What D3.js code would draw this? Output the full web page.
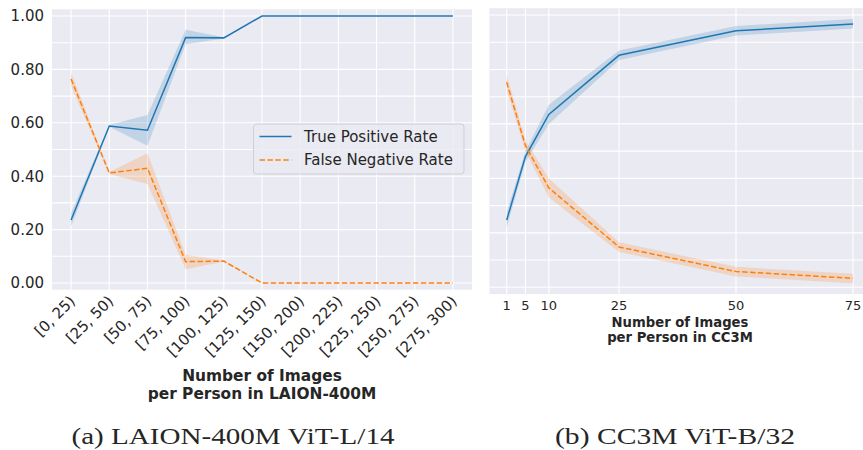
<!DOCTYPE html>
<html>
<head>
<meta charset="utf-8">
<script src="https://cdn.jsdelivr.net/npm/d3@7"></script>
<style>
  body { margin: 0; background: #fff; }
  text { fill: #262626; font-family: "DejaVu Sans", sans-serif; }
</style>
</head>
<body>
<svg id="chart" width="863" height="450"></svg>
<script>
// ---- data ----
const laionBins = ["[0, 25)", "[25, 50)", "[50, 75)", "[75, 100)", "[100, 125)", "[125, 150)",
                   "[150, 200)", "[200, 225)", "[225, 250)", "[250, 275)", "[275, 300)"];
const laionTPR     = [0.236, 0.588, 0.572, 0.919, 0.918, 1, 1, 1, 1, 1, 1];
const laionTPRLow  = [0.212, 0.585, 0.514, 0.894, 0.916, 1, 1, 1, 1, 1, 1];
const laionTPRHigh = [0.262, 0.592, 0.629, 0.948, 0.920, 1, 1, 1, 1, 1, 1];
const laionFNR     = [0.764, 0.412, 0.430, 0.080, 0.082, 0, 0, 0, 0, 0, 0];
const laionFNRLow  = [0.738, 0.408, 0.371, 0.052, 0.080, 0, 0, 0, 0, 0, 0];
const laionFNRHigh = [0.788, 0.416, 0.486, 0.106, 0.084, 0, 0, 0, 0, 0, 0];

const cc3mCounts   = [1, 5, 10, 25, 50, 75];
const cc3mTPR      = [0.247, 0.480, 0.635, 0.852, 0.942, 0.967];
const cc3mTPRLow   = [0.220, 0.460, 0.600, 0.835, 0.925, 0.950];
const cc3mTPRHigh  = [0.275, 0.500, 0.670, 0.870, 0.960, 0.985];
const cc3mFNR      = [0.753, 0.520, 0.365, 0.148, 0.058, 0.033];
const cc3mFNRLow   = [0.725, 0.500, 0.330, 0.130, 0.040, 0.015];
const cc3mFNRHigh  = [0.780, 0.540, 0.400, 0.165, 0.075, 0.050];

const yTicks = [0, 0.2, 0.4, 0.6, 0.8, 1.0];
const yGrid = d3.range(0, 1.01, 0.1);
const seriesNames = ["True Positive Rate", "False Negative Rate"];

const blue = "#1f77b4", orange = "#ff7f0e", bg = "#eaeaf2";

const svg = d3.select("#chart");

function drawPanel(opts) {
  const g = svg.append("g");
  const x = opts.x, y = opts.y;
  const [x0, x1] = x.range(), [yb, yt] = y.range();
  const clipId = "clip" + opts.id;
  svg.append("clipPath").attr("id", clipId)
    .append("rect").attr("x", x0).attr("y", yt).attr("width", x1 - x0).attr("height", yb - yt);

  g.append("rect").attr("x", x0).attr("y", yt).attr("width", x1 - x0).attr("height", yb - yt)
    .attr("fill", bg);

  // grid
  g.selectAll(".hg").data(yGrid).enter().append("line")
    .attr("x1", x0).attr("x2", x1)
    .attr("y1", d => y(d)).attr("y2", d => y(d))
    .attr("stroke", "#fff").attr("stroke-width", 1.1);
  g.selectAll(".vg").data(opts.xs).enter().append("line")
    .attr("x1", d => x(d)).attr("x2", d => x(d))
    .attr("y1", yt).attr("y2", yb)
    .attr("stroke", "#fff").attr("stroke-width", 1.1);

  const plot = g.append("g").attr("clip-path", `url(#${clipId})`);
  const series = [
    {v: opts.tpr, lo: opts.tprLo, hi: opts.tprHi, c: blue, dash: null},
    {v: opts.fnr, lo: opts.fnrLo, hi: opts.fnrHi, c: orange, dash: "5.5,2.4"}
  ];
  series.forEach(s => {
    const area = d3.area().x((d, i) => x(opts.xs[i])).y0((d, i) => y(s.lo[i])).y1((d, i) => y(s.hi[i]));
    plot.append("path").datum(s.v).attr("d", area).attr("fill", s.c).attr("fill-opacity", 0.2);
  });
  series.forEach(s => {
    const line = d3.line().x((d, i) => x(opts.xs[i])).y(d => y(d));
    plot.append("path").datum(s.v).attr("d", line).attr("fill", "none")
      .attr("stroke", s.c).attr("stroke-width", 1.5).attr("stroke-dasharray", s.dash);
  });
  return g;
}

// ---- left panel: LAION-400M ----
const xL = d3.scaleLinear().domain([-0.5, 10.5]).range([52, 472]);
const yL = d3.scaleLinear().domain([-0.025, 1.025]).range([289.7, 9.3]);
const gL = drawPanel({id: "L", x: xL, y: yL, xs: d3.range(laionBins.length),
  tpr: laionTPR, tprLo: laionTPRLow, tprHi: laionTPRHigh,
  fnr: laionFNR, fnrLo: laionFNRLow, fnrHi: laionFNRHigh});

gL.selectAll(".yt").data(yTicks).enter().append("text")
  .attr("x", 44).attr("y", d => yL(d)).attr("dy", "0.36em")
  .attr("text-anchor", "end").attr("font-size", 15)
  .text(d => d.toFixed(2));

gL.selectAll(".xt").data(laionBins).enter().append("text")
  .attr("transform", (d, i) => `translate(${xL(i) + 5},${302}) rotate(-45)`)
  .attr("text-anchor", "end").attr("font-size", 15)
  .text(d => d);

gL.append("text").attr("x", 262).attr("y", 381).attr("text-anchor", "middle")
  .attr("font-size", 15.4).attr("font-weight", "bold").text("Number of Images");
gL.append("text").attr("x", 262).attr("y", 399).attr("text-anchor", "middle")
  .attr("font-size", 15.4).attr("font-weight", "bold").text("per Person in LAION-400M");

// legend
const leg = gL.append("g");
leg.append("rect").attr("x", 253.5).attr("y", 124).attr("width", 210.5).attr("height", 50)
  .attr("rx", 3).attr("fill", bg).attr("fill-opacity", 0.8).attr("stroke", "#cfcfd6");
seriesNames.forEach((name, i) => {
  const ly = 136.5 + i * 23.5;
  leg.append("line").attr("x1", 259.5).attr("x2", 291.5).attr("y1", ly).attr("y2", ly)
    .attr("stroke", i ? orange : blue).attr("stroke-width", 1.5)
    .attr("stroke-dasharray", i ? "5.5,2.4" : null);
  leg.append("text").attr("x", 304).attr("y", ly).attr("dy", "0.36em")
    .attr("font-size", 15).text(name);
});

// ---- right panel: CC3M ----
const xR = d3.scaleLinear().domain([-2.7, 78.7]).range([489.4, 870.3]);
const yR = d3.scaleLinear().domain([-0.025, 1.025]).range([294.1, 8.2]);
const gR = drawPanel({id: "R", x: xR, y: yR, xs: cc3mCounts,
  tpr: cc3mTPR, tprLo: cc3mTPRLow, tprHi: cc3mTPRHigh,
  fnr: cc3mFNR, fnrLo: cc3mFNRLow, fnrHi: cc3mFNRHigh});

gR.selectAll(".xt").data(cc3mCounts).enter().append("text")
  .attr("x", d => xR(d)).attr("y", 310).attr("text-anchor", "middle")
  .attr("font-size", 13).text(d => d);

gR.append("text").attr("x", 680).attr("y", 326.5).attr("text-anchor", "middle")
  .attr("font-size", 13.2).attr("font-weight", "bold").text("Number of Images");
gR.append("text").attr("x", 680).attr("y", 341.5).attr("text-anchor", "middle")
  .attr("font-size", 13.2).attr("font-weight", "bold").text("per Person in CC3M");

// ---- captions ----
svg.append("text").attr("x", 233).attr("y", 443.5).attr("text-anchor", "middle")
  .style("font-family", "'Liberation Serif', serif").attr("font-size", 23)
  .attr("textLength", 323).attr("lengthAdjust", "spacingAndGlyphs")
  .text("(a) LAION-400M ViT-L/14");
svg.append("text").attr("x", 675).attr("y", 443.5).attr("text-anchor", "middle")
  .style("font-family", "'Liberation Serif', serif").attr("font-size", 23)
  .attr("textLength", 240).attr("lengthAdjust", "spacingAndGlyphs")
  .text("(b) CC3M ViT-B/32");
</script>
</body>
</html>
